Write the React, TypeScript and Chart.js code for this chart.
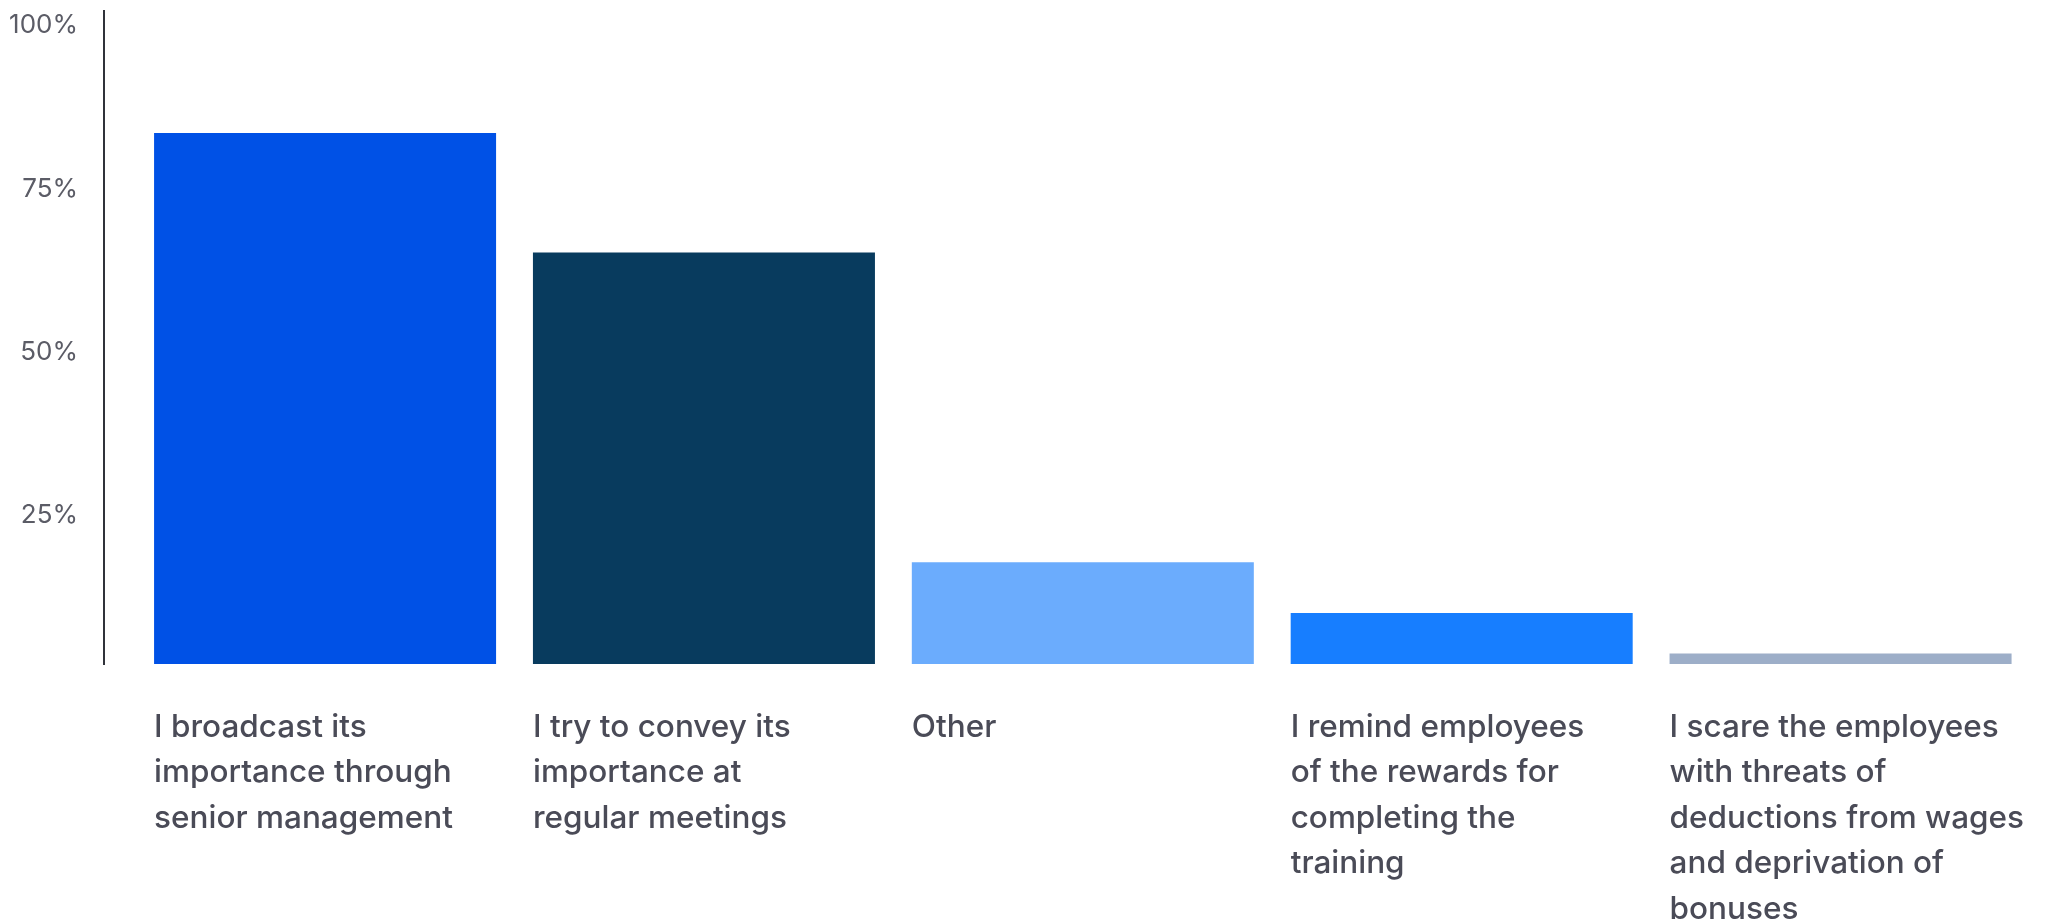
import React, { useEffect, useRef } from "react";
import { Chart, registerables } from "chart.js";

Chart.register(...registerables);

// Category labels (already wrapped into lines as in the reference)
const CATEGORIES: string[][] = [
  ["I broadcast its", "importance through", "senior management"],
  ["I try to convey its", "importance at", "regular meetings"],
  ["Other"],
  ["I remind employees", "of the rewards for", "completing the", "training"],
  ["I scare the employees", "with threats of", "deductions from wages", "and deprivation of", "bonuses"],
];

// Share of respondents, %
const VALUES: number[] = [81.3, 63.0, 15.6, 7.8, 1.6];

const COLORS: string[] = ["#0051E6", "#083B5E", "#6BACFD", "#177EFF", "#9DAEC8"];

const Y_TICKS: number[] = [25, 50, 75, 100];

const FONT = "Inter, 'Noto Sans', sans-serif";
const LABEL_SIZE = 31.5;
const LABEL_LINE = 45.5;
const LABEL_GAP = 63.5;

const categoryLabelPlugin = {
  id: "categoryLabels",
  afterDraw(chart: any) {
    const meta = chart.getDatasetMeta(0);
    const ctx = chart.ctx as CanvasRenderingContext2D;
    const bottom = chart.chartArea.bottom;
    ctx.save();
    ctx.font = `500 ${LABEL_SIZE}px ${FONT}`;
    ctx.fillStyle = "#4A4B57";
    ctx.textAlign = "left";
    ctx.textBaseline = "middle";
    meta.data.forEach((el: any, i: number) => {
      const { x, width } = el.getProps(["x", "width"], true);
      const left = x - width / 2;
      (CATEGORIES[i] || []).forEach((line, k) => {
        ctx.fillText(line, left, bottom + LABEL_GAP + k * LABEL_LINE);
      });
    });
    ctx.restore();
  },
};

export default function App() {
  const canvasRef = useRef<HTMLCanvasElement | null>(null);

  useEffect(() => {
    if (!canvasRef.current) return;
    const chart = new Chart(canvasRef.current, {
      type: "bar",
      data: {
        datasets: [
          {
            data: VALUES.map((v, i) => ({ x: i, y: v })),
            backgroundColor: COLORS,
            borderWidth: 0,
            categoryPercentage: 1,
            barPercentage: 0.9027,
          } as any,
        ],
      },
      options: {
        animation: false,
        responsive: true,
        maintainAspectRatio: false,
        layout: { padding: { top: 3, right: 8, bottom: 257, left: 0 } },
        plugins: {
          legend: { display: false },
          tooltip: { enabled: false },
        },
        scales: {
          x: {
            type: "linear",
            display: false,
            offset: false,
            grid: { offset: false },
            min: -0.5835,
            max: 4.5,
            afterBuildTicks: (scale: any) => {
              scale.ticks = VALUES.map((_, i) => ({ value: i }));
            },
          },
          y: {
            min: 0,
            max: 100,
            afterBuildTicks: (scale: any) => {
              scale.ticks = Y_TICKS.map((v) => ({ value: v }));
            },
            afterFit: (scale: any) => {
              scale.width = 96;
            },
            border: { display: true, color: "#30333A", width: 2 },
            grid: {
              display: true,
              drawOnChartArea: false,
              drawTicks: true,
              tickLength: 26,
              tickColor: "rgba(0,0,0,0)",
            },
            ticks: {
              padding: 0,
              labelOffset: 14.5,
              color: "#5B5C66",
              font: { family: FONT, size: 26, lineHeight: 0.2 },
              callback: (v: any) => `${v}%`,
            },
          },
        },
      } as any,
      plugins: [categoryLabelPlugin],
    });
    return () => chart.destroy();
  }, []);

  return (
    <div style={{ position: "relative", width: "100%", height: 913 }}>
      <canvas ref={canvasRef} />
    </div>
  );
}
